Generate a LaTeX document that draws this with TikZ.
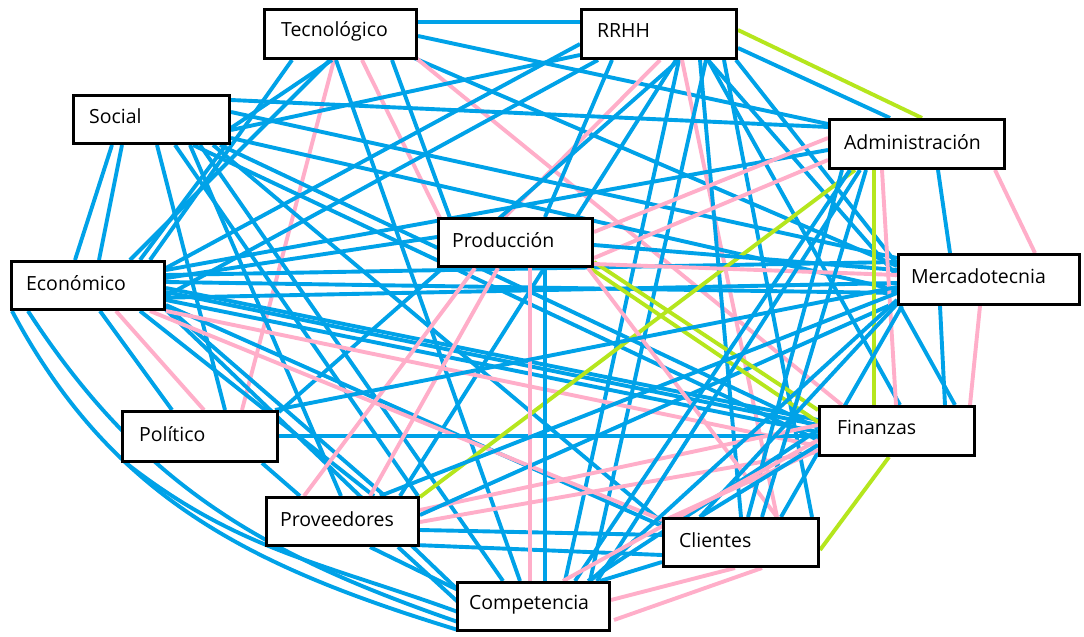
\documentclass[tikz,border=0pt]{standalone}
\usepackage{fontspec}
\setmainfont{Open Sans}
\definecolor{lnblue}{RGB}{0,162,232}
\definecolor{lnpink}{RGB}{255,174,201}
\definecolor{lnlime}{RGB}{181,230,29}
% box centres (x, y in pixels, y downwards)
\def\Xtec{340.5}\def\Ytec{34}
\def\Xrrhh{659}\def\Yrrhh{34}
\def\Xsoc{151.5}\def\Ysoc{119.5}
\def\Xadm{917}\def\Yadm{144}
\def\Xprod{515.5}\def\Yprod{242.5}
\def\Xeco{88}\def\Yeco{285.5}
\def\Xmer{989}\def\Ymer{279.5}
\def\Xpol{200}\def\Ypol{436.5}
\def\Xfin{897}\def\Yfin{431}
\def\Xprov{342.5}\def\Yprov{521.5}
\def\Xcli{741}\def\Ycli{542.5}
\def\Xcomp{533.5}\def\Ycomp{606.5}
% point given in pixels, expressed relative to a box
\newcommand\at[3]{([shift={(#2-\csname X#1\endcsname,#3-\csname Y#1\endcsname)}]#1.center)}
% straight link: style, box A, x, y, box B, x, y
\newcommand\lk[7]{\draw[#1] \at{#2}{#3}{#4} -- \at{#5}{#6}{#7};}
% end point on a box, kept as a named coordinate
\newcommand\pt[4]{\path \at{#2}{#3}{#4} coordinate (#1);}
\tikzset{
  bl/.style={lnblue, line width=3.9pt},
  pk/.style={lnpink, line width=3.9pt},
  lm/.style={lnlime, line width=3.9pt},
  box/.style={draw=black, line width=3.2pt, fill=white, rectangle, inner sep=0pt},
  lbl/.style={font=\fontsize{19.5}{22}\selectfont, text=black, inner sep=0pt, anchor=west},
}
\begin{document}
\begin{tikzpicture}[x=1pt, y=-1pt]
\useasboundingbox (0,0) rectangle (1084,637);
\fill[white] (0,0) rectangle (1084,637);
% boxes (placed first so links can refer to them, redrawn on top at the end)
\newcommand\boxes{%
\node[box, minimum width=152pt, minimum height=49pt] (tec) at (\Xtec,\Ytec) {};
\node[box, minimum width=155pt, minimum height=49pt] (rrhh) at (\Xrrhh,\Yrrhh) {};
\node[box, minimum width=156pt, minimum height=48pt] (soc) at (\Xsoc,\Ysoc) {};
\node[box, minimum width=175pt, minimum height=49pt] (adm) at (\Xadm,\Yadm) {};
\node[box, minimum width=154pt, minimum height=48pt] (prod) at (\Xprod,\Yprod) {};
\node[box, minimum width=153pt, minimum height=48pt] (eco) at (\Xeco,\Yeco) {};
\node[box, minimum width=181pt, minimum height=50pt] (mer) at (\Xmer,\Ymer) {};
\node[box, minimum width=155pt, minimum height=50pt] (pol) at (\Xpol,\Ypol) {};
\node[box, minimum width=155pt, minimum height=49pt] (fin) at (\Xfin,\Yfin) {};
\node[box, minimum width=152pt, minimum height=48pt] (prov) at (\Xprov,\Yprov) {};
\node[box, minimum width=155pt, minimum height=48pt] (cli) at (\Xcli,\Ycli) {};
\node[box, minimum width=152pt, minimum height=48pt] (comp) at (\Xcomp,\Ycomp) {};
}
\boxes
% Tecnológico
\lk{bl}{tec}{418}{22}{rrhh}{580}{22}
\lk{bl}{tec}{418}{36}{adm}{828}{124}
\lk{bl}{tec}{414}{58}{mer}{897}{266}
\lk{pk}{tec}{416}{58}{fin}{842}{405}
\lk{bl}{tec}{392}{60}{prod}{450}{218}
\lk{pk}{tec}{362}{60}{prod}{440}{218}
\lk{pk}{tec}{334}{60}{pol}{242}{410}
\lk{bl}{tec}{336}{60}{comp}{520}{581}
\lk{bl}{tec}{332}{60}{soc}{231}{128}
\lk{bl}{tec}{292}{60}{eco}{150}{260}
\lk{bl}{tec}{330}{60}{eco}{130}{260}
% RRHH
\lk{lm}{rrhh}{738}{30}{adm}{922}{118}
\lk{bl}{rrhh}{738}{48}{adm}{890}{118}
\lk{bl}{rrhh}{736}{60}{mer}{897}{264}
\lk{bl}{rrhh}{708}{60}{mer}{897}{276}
\lk{bl}{rrhh}{580}{44}{eco}{166}{268}
\lk{bl}{rrhh}{580}{55}{soc}{231}{130}
\lk{bl}{rrhh}{598}{60}{eco}{166}{296}
\lk{pk}{rrhh}{660}{60}{prod}{505}{217}
\lk{bl}{rrhh}{612}{60}{prod}{545}{217}
\lk{bl}{rrhh}{679}{60}{comp}{565}{581}
\lk{bl}{rrhh}{676}{60}{prov}{400}{496}
\lk{bl}{rrhh}{679}{60}{pol}{279}{412}
\lk{pk}{rrhh}{682}{60}{cli}{777}{517}
\lk{bl}{rrhh}{700}{60}{cli}{741}{517}
\lk{bl}{rrhh}{708}{60}{fin}{900}{405}
\lk{bl}{rrhh}{706}{60}{comp}{590}{581}
\lk{bl}{rrhh}{724}{60}{cli}{812}{517}
% Social
\lk{bl}{soc}{112}{145}{eco}{75}{260}
\lk{bl}{soc}{122}{145}{eco}{99}{260}
\lk{bl}{soc}{157}{145}{pol}{225}{410}
\lk{bl}{soc}{175}{145}{prov}{418}{496}
\lk{bl}{soc}{190}{145}{prov}{341}{496}
\lk{bl}{soc}{193}{145}{fin}{818}{440}
\lk{bl}{soc}{200}{145}{comp}{503}{581}
\lk{bl}{soc}{213}{145}{cli}{662}{522}
\lk{bl}{soc}{226}{145}{eco}{140}{260}
\lk{bl}{soc}{231}{100}{adm}{828}{127}
\lk{bl}{soc}{231}{112}{mer}{897}{258}
\lk{bl}{soc}{231}{138}{mer}{897}{290}
\lk{bl}{soc}{220}{145}{fin}{818}{428}
% Económico
\lk{bl}{eco}{166}{275}{mer}{897}{262}
\lk{bl}{eco}{166}{282}{mer}{897}{293}
\lk{bl}{eco}{150}{298}{mer}{897}{283}
\lk{bl}{eco}{166}{288}{fin}{818}{420}
\lk{bl}{eco}{166}{300}{fin}{818}{432}
\lk{bl}{eco}{166}{292}{fin}{818}{425}
\lk{bl}{eco}{166}{305}{cli}{662}{526}
\lk{bl}{eco}{166}{270}{adm}{828}{150}
\lk{bl}{eco}{166}{310}{comp}{458}{590}
\lk{bl}{eco}{166}{306}{prov}{385}{496}
\lk{bl}{eco}{140}{311}{prov}{374}{496}
\lk{bl}{eco}{100}{311}{pol}{172}{410}
\lk{pk}{eco}{116}{311}{pol}{204}{410}
\lk{pk}{eco}{150}{311}{cli}{662}{520}
\lk{pk}{eco}{166}{311}{fin}{818}{446}
\lk{bl}{eco}{166}{278}{prod}{437}{237}
\pt{e1}{eco}{12}{311}\pt{e2}{eco}{28}{311}
\pt{c1}{comp}{458}{630}\pt{c2}{comp}{458}{622}
\draw[bl] (e1) to[out=-62, in=163] (c1);
\draw[bl] (e2) to[out=-57, in=161] (c2);
% Político
\lk{bl}{pol}{279}{436}{fin}{818}{436}
\pt{p1}{pol}{126}{463}\pt{c3}{comp}{458}{612}
\draw[bl] (p1) to[out=-38, in=160] (c3);
\lk{bl}{pol}{262}{463}{prov}{300}{496}
% Proveedores
\lk{lm}{prov}{420}{497}{adm}{855}{170}
\lk{bl}{prov}{420}{530}{cli}{662}{535}
\lk{bl}{prov}{415}{545}{cli}{662}{555}
\lk{pk}{prov}{420}{510}{fin}{818}{425}
\lk{pk}{prov}{420}{522}{fin}{818}{452}
\lk{bl}{prov}{370}{547}{comp}{458}{590}
\lk{bl}{prov}{398}{547}{comp}{458}{602}
\lk{pk}{prov}{304}{496}{prod}{475}{268}
\lk{pk}{prov}{370}{496}{prod}{498}{268}
\lk{bl}{prov}{420}{515}{mer}{897}{302}
% Producción
\lk{bl}{prod}{545}{268}{comp}{545}{581}
\lk{pk}{prod}{530}{268}{comp}{530}{581}
\lk{lm}{prod}{594}{262}{fin}{818}{410}
\lk{lm}{prod}{590}{268}{fin}{818}{422}
\lk{pk}{prod}{594}{232}{adm}{828}{138}
\lk{pk}{prod}{594}{258}{adm}{828}{160}
\lk{bl}{prod}{594}{245}{mer}{897}{270}
\lk{pk}{prod}{594}{264}{mer}{897}{275}
\lk{pk}{prod}{588}{268}{cli}{777}{517}
% Administración
\lk{bl}{adm}{938}{170}{mer}{950}{253}
\lk{pk}{adm}{995}{170}{mer}{1035}{253}
\lk{lm}{adm}{874}{170}{fin}{874}{405}
\lk{pk}{adm}{882}{170}{fin}{896}{405}
\lk{bl}{adm}{842}{170}{cli}{748}{517}
\lk{bl}{adm}{860}{170}{comp}{597}{581}
\lk{bl}{adm}{866}{170}{cli}{762}{517}
\lk{bl}{adm}{850}{170}{comp}{575}{581}
% Mercadotecnia
\lk{bl}{mer}{940}{306}{fin}{945}{405}
\lk{pk}{mer}{980}{306}{fin}{970}{405}
\lk{bl}{mer}{900}{306}{fin}{955}{405}
\lk{bl}{mer}{902}{306}{cli}{781}{517}
\lk{bl}{mer}{897}{293}{prov}{380}{496}
\lk{bl}{mer}{897}{287}{pol}{275}{410}
\lk{bl}{mer}{897}{300}{comp}{590}{581}
\lk{bl}{mer}{897}{304}{cli}{700}{517}
% Finanzas
\lk{lm}{fin}{889}{457}{cli}{820}{550}
\lk{bl}{fin}{818}{430}{comp}{588}{581}
\lk{pk}{fin}{818}{440}{comp}{563}{581}
\lk{pk}{fin}{818}{450}{cli}{665}{520}
\lk{bl}{fin}{818}{445}{cli}{700}{517}
% Competencia - Clientes
\lk{pk}{comp}{611}{600}{cli}{735}{568}
\lk{pk}{comp}{614}{620}{cli}{762}{568}
\lk{bl}{comp}{600}{581}{cli}{662}{562}
% boxes on top of the links, with their labels
\boxes
\node[lbl] (tec-t) at ([xshift=18pt, yshift=3pt]tec.west) {Tecnológico};
\node[lbl] (rrhh-t) at ([xshift=17pt, yshift=3pt]rrhh.west) {RRHH};
\node[lbl] (soc-t) at ([xshift=17pt, yshift=3pt]soc.west) {Social};
\node[lbl] (adm-t) at ([xshift=16pt, yshift=2pt]adm.west) {Administración};
\node[lbl] (prod-t) at ([xshift=15pt, yshift=2pt]prod.west) {Producción};
\node[lbl] (eco-t) at ([xshift=16pt, yshift=2pt]eco.west) {Económico};
\node[lbl] (mer-t) at ([xshift=14pt, yshift=3pt]mer.west) {Mercadotecnia};
\node[lbl] (pol-t) at ([xshift=18pt, yshift=2pt]pol.west) {Político};
\node[lbl] (fin-t) at ([xshift=19pt, yshift=4pt]fin.west) {Finanzas};
\node[lbl] (prov-t) at ([xshift=15pt, yshift=2pt]prov.west) {Proveedores};
\node[lbl] (cli-t) at ([xshift=17pt, yshift=2pt]cli.west) {Clientes};
\node[lbl] (comp-t) at ([xshift=13pt, yshift=2pt]comp.west) {Competencia};
\end{tikzpicture}
\end{document}
